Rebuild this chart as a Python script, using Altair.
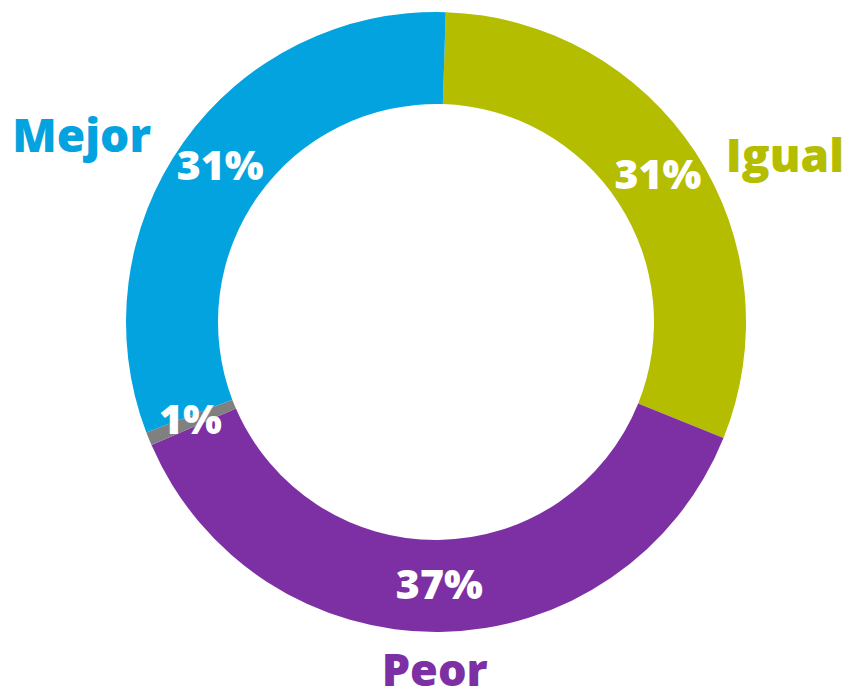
import math
import altair as alt
import pandas as pd

categories = ["Igual", "Peor", "NS/NC", "Mejor"]
values = [30.6, 37.4, 0.7, 31.3]
pct_labels = ["31%", "37%", "1%", "31%"]
cat_labels = ["Igual", "Peor", "", "Mejor"]
colors = ["#B5BD00", "#7D30A4", "#808080", "#03A3DF"]

df = pd.DataFrame({
    "cat": categories,
    "value": values,
    "pct": pct_labels,
    "label": cat_labels,
    "orden": list(range(len(categories))),
})

start = math.radians(1.8)
CX, CY = 428, 314
FONT = "Open Sans"

theta_scale = alt.Scale(domain=[0, sum(values)],
                        range=[start, start + 2 * math.pi])
color_scale = alt.Scale(domain=categories, range=colors)

arcs = alt.Chart(df).mark_arc(innerRadius=218, outerRadius=310, x=CX, y=CY).encode(
    theta=alt.Theta("value:Q", stack=True, scale=theta_scale),
    order=alt.Order("orden:Q"),
    color=alt.Color("cat:N", scale=color_scale, legend=None),
)

stacked = alt.Chart(df).transform_stack(
    stack="value", groupby=[], as_=["v0", "v1"],
    sort=[alt.SortField("orden", order="ascending")],
).transform_calculate(mid="(datum.v0 + datum.v1) / 2")

pct = stacked.mark_text(radius=265, x=CX, y=CY, font=FONT, fontWeight=800,
                        fontSize=41, color="white", align="center",
                        baseline="middle").encode(
    theta=alt.Theta("mid:Q", stack=None, scale=theta_scale),
    text="pct:N",
)

layers = [arcs, pct]
offsets = {"Mejor": (-53, 31, 46), "Igual": (39, 38, 46), "Peor": (-6, -20, 45)}
for c, (dx, dy, fs) in offsets.items():
    layers.append(
        stacked.transform_filter(alt.datum.cat == c).mark_text(
            radius=370, x=CX, y=CY, dx=dx, dy=dy, font=FONT, fontWeight=800,
            fontSize=fs, align="center", baseline="middle"
        ).encode(
            theta=alt.Theta("mid:Q", stack=None, scale=theta_scale),
            text="label:N",
            color=alt.Color("cat:N", scale=color_scale, legend=None),
        )
    )

chart = alt.layer(*layers).properties(
    width=840, height=686, padding=0, autosize="none"
).configure_view(stroke=None)

chart.save("out.html", embed_options={"renderer": "svg", "actions": False})
